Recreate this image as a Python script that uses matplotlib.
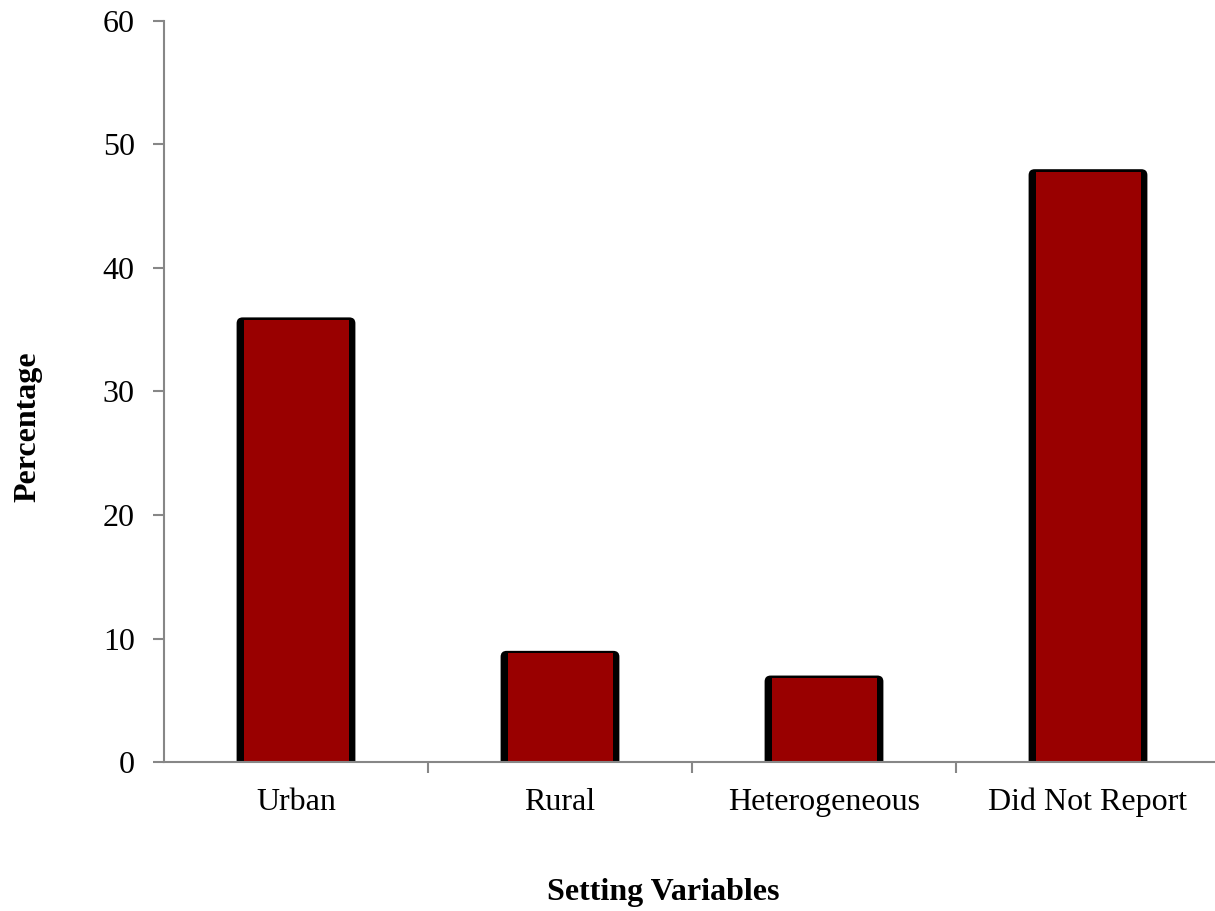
import matplotlib
matplotlib.use("Agg")
import matplotlib.pyplot as plt
from matplotlib.patches import FancyBboxPatch
import numpy as np

categories = ["Urban", "Rural", "Heterogeneous", "Did Not Report"]
values = [36, 9, 7, 48]
yticks = [0, 10, 20, 30, 40, 50, 60]

plt.rcParams['font.family'] = ['Liberation Serif', 'DejaVu Serif']

fig = plt.figure(figsize=(12.15, 9.11), dpi=100)
ax = fig.add_axes([164/1215, (911-762)/911, (1220-164)/1215, (762-21)/911])

x = np.arange(len(categories))
w = 0.45
px_x = 1.0 / 264.0      # data units per pixel along x
px_y = 60.0 / 741.0     # data units per pixel along y
vals = np.array(values, dtype=float)

# outer black bars with rounded top corners
outer = ax.bar(x, vals, width=w, color='black', zorder=2)
r = 6 * px_x
aspect = px_y / px_x
for p in outer:
    bx, by, bw, bh = p.get_x(), p.get_y(), p.get_width(), p.get_height()
    fb = FancyBboxPatch((bx, by - r * aspect), bw, bh + r * aspect,
                        boxstyle=f"round,pad=0,rounding_size={r}",
                        mutation_aspect=aspect, facecolor='black',
                        edgecolor='none', zorder=2)
    ax.add_patch(fb)
    p.remove()

left_b, right_b, top_b = 7 * px_x, 6 * px_x, 2.5 * px_y
ax.bar(x - w/2 + left_b, vals - top_b, width=w - left_b - right_b,
       align='edge', color='#990000', zorder=3)

ax.set_xlim(-0.5, len(categories) - 0.5)
ax.set_ylim(0, 60)
ax.set_yticks(yticks)
ax.set_xticks(x)
ax.set_xticklabels(categories)
ax.set_xticks(np.arange(len(categories) - 1) + 0.5, minor=True)
ax.tick_params(axis='x', which='major', length=0, pad=18.5, labelsize=23)
ax.tick_params(axis='x', which='minor', length=8, width=1.5, color='#878787', direction='out')
ax.tick_params(axis='y', length=8, width=1.5, color='#878787', direction='out', labelsize=23, pad=13)

for s in ['top', 'right']:
    ax.spines[s].set_visible(False)
for s in ['left', 'bottom']:
    ax.spines[s].set_color('#878787')
    ax.spines[s].set_linewidth(1.5)
    ax.spines[s].set_zorder(4)

fig.text(663/1215, 1 - 900/911, "Setting Variables", ha='center', va='baseline',
         fontsize=23, fontweight='bold')
fig.text(28/1215, 1 - 427/911, "Percentage", ha='center', va='center',
         rotation=90, fontsize=23, fontweight='bold')

fig.savefig("out.png", dpi=100)
